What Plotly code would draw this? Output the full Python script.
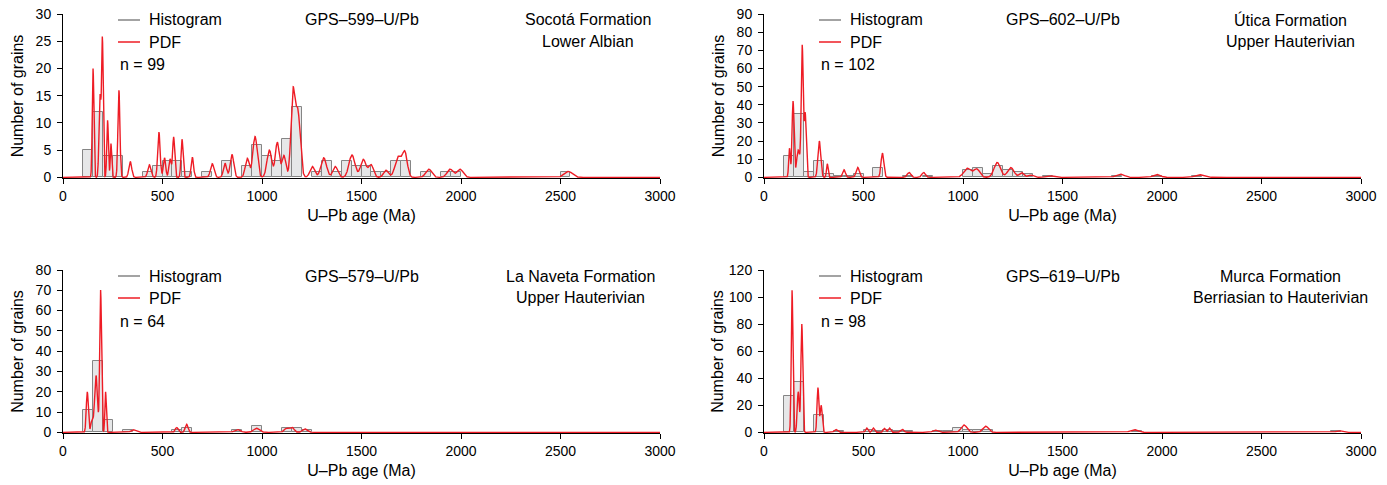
import numpy as np
import plotly.graph_objects as go

W, H = 1387, 485
BIN = 50
FONT = "Liberation Sans, Arial, Helvetica, sans-serif"
RED = "#ee1c25"
GRAY_LINE = "#858585"
BAR_FILL = "#e6e7e8"

# ---------------- data ----------------
# Panel 1: GPS-599 (Socotá Formation, Lower Albian)
p1_bin_start = [100, 150, 200, 250, 400, 450, 500, 550, 600, 700, 800, 900, 950, 1000, 1050,
                1100, 1150, 1250, 1300, 1350, 1400, 1450, 1500, 1550, 1600, 1650, 1700, 1800,
                1900, 1950, 2500]
p1_counts = [5, 12, 4, 4, 1, 2, 3, 3, 1, 1, 3, 2, 6, 4, 3,
             7, 13, 1, 3, 1, 3, 2, 2, 1, 1, 3, 3, 1,
             1, 1, 1]
p1_peak_age = [151, 186, 198, 224, 241, 281, 338, 434, 482, 510, 538, 556, 598, 650, 750, 814,
               849, 926, 965, 1037, 1077, 1110, 1155, 1180, 1253, 1310, 1368, 1452, 1509, 1548,
               1623, 1685, 1718, 1838, 1945, 1995, 2539]
p1_peak_height = [20, 15, 25, 10.5, 6.2, 16, 2.9, 2.3, 8.3, 3.6, 3.4, 7.4, 7.0, 3.7, 2.5, 2.6,
                  4.2, 3.5, 7.5, 5.0, 6.4, 4.0, 15, 12, 2.0, 3.6, 2.0, 4.1, 3.3, 2.3,
                  1.3, 3.8, 4.4, 1.5, 1.5, 1.5, 1.1]
p1_peak_sigma = [4, 5, 4, 4, 3.5, 5, 7, 8, 6, 6, 6, 5, 5, 6, 9, 8,
                 9, 10, 11, 12, 10, 10, 10, 12, 12, 14, 12, 15, 14, 12,
                 12, 16, 12, 15, 15, 15, 20]

# Panel 2: GPS-602 (Útica Formation, Upper Hauterivian)
p2_bin_start = [100, 150, 200, 250, 300, 350, 400, 450, 550, 700, 800, 1000, 1050, 1100, 1150,
                1200, 1250, 1300, 1400, 1750, 1950, 2150]
p2_counts = [12, 35, 3, 9, 2, 1, 1, 2, 5, 1, 1, 4, 5, 2, 6,
             4, 3, 2, 1, 1, 1, 1]
p2_peak_age = [128, 146, 172, 192, 207, 278, 318, 402, 471, 595, 729, 802, 1022, 1069, 1172,
               1240, 1295, 1340, 1437, 1789, 1973, 2186]
p2_peak_height = [16, 42, 15, 72, 35, 20, 7.5, 4.2, 5.5, 13.3, 2.7, 2.7, 5.0, 4.6, 8.2,
                  5.4, 2.5, 1.3, 0.9, 1.8, 1.6, 1.5]
p2_peak_sigma = [4, 5, 8, 5, 5, 7, 4, 7, 8, 7, 9, 9, 18, 15, 16,
                 16, 12, 12, 18, 20, 18, 20]

# Panel 3: GPS-579 (La Naveta Formation, Upper Hauterivian)
p3_bin_start = [100, 150, 200, 300, 550, 600, 850, 950, 1100, 1150, 1200]
p3_counts = [11, 35, 6, 1, 1, 2, 1, 3, 2, 2, 1]
p3_peak_age = [122, 146, 166, 189, 214, 353, 571, 621, 876, 973, 1124, 1152, 1216]
p3_peak_height = [20, 6, 28, 70, 20, 1.3, 2.4, 4.0, 1.4, 2.0, 2.0, 2.3, 1.7]
p3_peak_sigma = [5, 6, 7, 4.5, 3.5, 12, 7, 7, 15, 15, 12, 10, 12]

# Panel 4: GPS-619 (Murca Formation, Berriasian to Hauterivian)
p4_bin_start = [100, 150, 250, 350, 500, 550, 600, 650, 700, 850, 900, 950, 1000, 1050, 1100,
                1850, 2850]
p4_counts = [27, 37, 13, 1, 2, 1, 2, 1, 1, 1, 1, 3, 2, 2, 2, 1, 1]
p4_peak_age = [141, 172, 190, 271, 287, 360, 516, 549, 605, 630, 695, 859, 1005, 1114, 1860, 2890]
p4_peak_height = [105, 30, 80, 33, 20, 2.2, 3.2, 3.2, 2.9, 3.2, 2.2, 1.7, 5.5, 4.6, 2.0, 1.2]
p4_peak_sigma = [4.1, 5, 4.5, 4.5, 5, 8, 6, 6, 6, 6, 8, 12, 14, 14, 20, 15]

panels = [
    dict(bins=p1_bin_start, counts=p1_counts, age=p1_peak_age, h=p1_peak_height, s=p1_peak_sigma,
         ymax=30, dtick=5, sample="GPS–599–U/Pb", n="n = 99",
         unit=["Socotá Formation", "Lower Albian"]),
    dict(bins=p2_bin_start, counts=p2_counts, age=p2_peak_age, h=p2_peak_height, s=p2_peak_sigma,
         ymax=90, dtick=10, sample="GPS–602–U/Pb", n="n = 102",
         unit=["Útica Formation", "Upper Hauterivian"]),
    dict(bins=p3_bin_start, counts=p3_counts, age=p3_peak_age, h=p3_peak_height, s=p3_peak_sigma,
         ymax=80, dtick=10, sample="GPS–579–U/Pb", n="n = 64",
         unit=["La Naveta Formation", "Upper Hauterivian"]),
    dict(bins=p4_bin_start, counts=p4_counts, age=p4_peak_age, h=p4_peak_height, s=p4_peak_sigma,
         ymax=120, dtick=20, sample="GPS–619–U/Pb", n="n = 98",
         unit=["Murca Formation", "Berriasian to Hauterivian"]),
]

# ---------------- layout geometry (pixels) ----------------
X_DOM = [(63, 660), (764, 1361), (63, 660), (764, 1361)]
Y_DOM = [(14, 178), (14, 178), (270, 433), (270, 433)]
UNIT_CX = [588, 1290, 580, 1280]
YTITLE_STANDOFF = [8, 8, 8, 1]


def px(x):
    return x / W


def py(y):
    return 1 - y / H


age_grid = np.linspace(0, 3000, 6001)

fig = go.Figure()
annotations = []
shapes = []

for i, p in enumerate(panels):
    k = "" if i == 0 else str(i + 1)
    xa, ya = "x" + k, "y" + k
    fig.add_trace(go.Bar(
        x=p["bins"], y=p["counts"], width=BIN, offset=0,
        marker=dict(color=BAR_FILL, line=dict(color=GRAY_LINE, width=1)),
        xaxis=xa, yaxis=ya, showlegend=False, name="Histogram"))
    pdf = np.zeros_like(age_grid)
    for a, hh, ss in zip(p["age"], p["h"], p["s"]):
        pdf += hh * np.exp(-0.5 * ((age_grid - a) / ss) ** 2)
    fig.add_trace(go.Scatter(
        x=age_grid, y=pdf, mode="lines", line=dict(color=RED, width=1.4),
        xaxis=xa, yaxis=ya, showlegend=False, name="PDF"))

    x0, x1 = X_DOM[i]
    y0, y1 = Y_DOM[i]
    axis_common = dict(showline=True, linecolor="black", linewidth=1, ticks="outside",
                       ticklen=5, tickwidth=1, tickcolor="black", showgrid=False,
                       zeroline=False, layer="below traces", automargin=False,
                       tickfont=dict(family=FONT, size=14, color="black"))
    fig.layout["xaxis" + k] = dict(
        domain=[px(x0), px(x1)], anchor=ya, range=[0, 3000], tickvals=[0, 500, 1000, 1500, 2000, 2500, 3000],
        title=dict(text="U–Pb age (Ma)", font=dict(family=FONT, size=16, color="black"), standoff=7),
        **axis_common)
    eps = p["ymax"] * 0.004
    fig.layout["yaxis" + k] = dict(
        domain=[py(y1), py(y0)], anchor=xa, range=[-eps, p["ymax"]], dtick=p["dtick"], tick0=0,
        ticklabelstandoff=3,
        title=dict(text="Number of grains", font=dict(family=FONT, size=16, color="black"),
                   standoff=YTITLE_STANDOFF[i]),
        **axis_common)

    # legend-like labels
    lx = x0 + 55
    shapes.append(dict(type="line", xref="paper", yref="paper", x0=px(lx), x1=px(lx + 22),
                       y0=py(y0 + 6), y1=py(y0 + 6), line=dict(color=GRAY_LINE, width=1.5)))
    shapes.append(dict(type="line", xref="paper", yref="paper", x0=px(lx), x1=px(lx + 22),
                       y0=py(y0 + 28), y1=py(y0 + 28), line=dict(color=RED, width=1.5)))
    txt = dict(xref="paper", yref="paper", showarrow=False,
               font=dict(family=FONT, size=16, color="black"))
    annotations.append(dict(text="Histogram", x=px(lx + 29), y=py(y0 + 6), xanchor="left", yanchor="middle", **txt))
    annotations.append(dict(text="PDF", x=px(lx + 29), y=py(y0 + 28), xanchor="left", yanchor="middle", **txt))
    annotations.append(dict(text=p["n"], x=px(lx), y=py(y0 + 51), xanchor="left", yanchor="middle", **txt))
    annotations.append(dict(text=p["sample"], x=px((x0 + x1) / 2), y=py(y0 + 6), xanchor="center", yanchor="middle", **txt))
    annotations.append(dict(text=p["unit"][0], x=px(UNIT_CX[i]), y=py(y0 + 6), xanchor="center", yanchor="middle", **txt))
    annotations.append(dict(text=p["unit"][1], x=px(UNIT_CX[i]), y=py(y0 + 27), xanchor="center", yanchor="middle", **txt))

fig.update_layout(
    width=W, height=H, margin=dict(l=0, r=0, t=0, b=0),
    paper_bgcolor="white", plot_bgcolor="white",
    barmode="overlay", bargap=0,
    font=dict(family=FONT, size=14, color="black"),
    annotations=annotations, shapes=shapes, showlegend=False,
)

fig.write_html("out.html")
